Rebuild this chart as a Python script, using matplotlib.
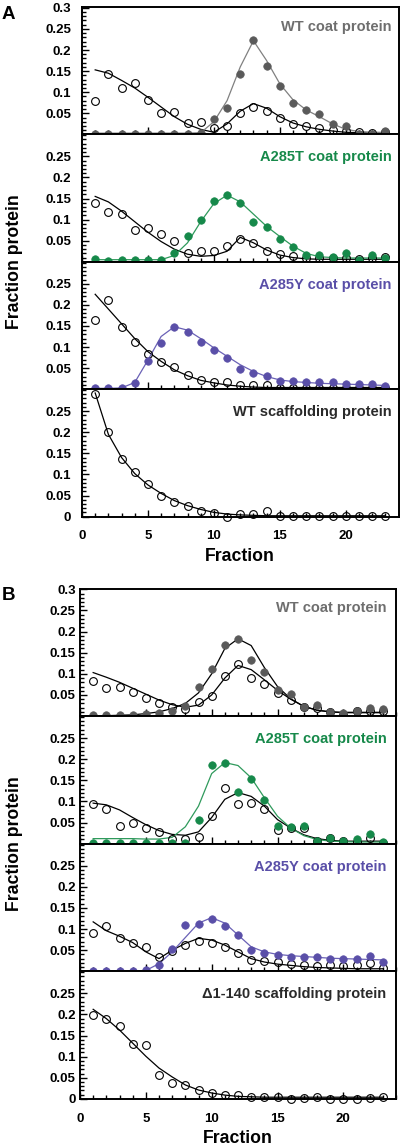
import matplotlib
matplotlib.use('Agg')
import matplotlib.pyplot as plt
from matplotlib.ticker import MultipleLocator

plt.rcParams['font.family'] = ['Liberation Sans', 'DejaVu Sans']
plt.rcParams['font.weight'] = 'bold'

# 组分编号
fractions = list(range(1, 24))

# ---- A 组数据 ----
# WT coat protein
a1_open = [0.078, 0.144, 0.109, 0.122, 0.082, 0.050, 0.052, 0.027, 0.029, 0.015, 0.020, 0.050,
           0.066, 0.056, 0.039, 0.025, 0.020, 0.016, 0.011, 0.008, 0.005, 0.004, 0.006]
a1_fill = [0.001, 0.001, 0.001, 0.002, 0.001, 0.001, 0.001, 0.001, 0.003, 0.036, 0.062, 0.144,
           0.223, 0.163, 0.115, 0.074, 0.057, 0.049, 0.024, 0.019, 0.001, 0.002, 0.009]
a1_open_fit = [0.153, 0.145, 0.128, 0.110, 0.088, 0.065, 0.042, 0.024, 0.012, 0.005, 0.025, 0.055,
               0.073, 0.062, 0.042, 0.027, 0.018, 0.012, 0.008, 0.005, 0.004, 0.003, 0.003]
a1_fill_fit = [0.003, 0.003, 0.003, 0.003, 0.003, 0.003, 0.003, 0.003, 0.004, 0.030, 0.080, 0.160,
               0.222, 0.175, 0.120, 0.082, 0.058, 0.042, 0.025, 0.012, 0.007, 0.005, 0.005]
# A285T coat protein
a2_open = [0.140, 0.119, 0.113, 0.075, 0.079, 0.066, 0.050, 0.020, 0.025, 0.025, 0.037, 0.053,
           0.044, 0.026, 0.018, 0.014, 0.008, 0.008, 0.008, 0.008, 0.006, 0.008, 0.012]
a2_fill = [0.006, 0.002, 0.004, 0.004, 0.004, 0.004, 0.021, 0.061, 0.098, 0.145, 0.158, 0.139,
           0.095, 0.083, 0.053, 0.034, 0.016, 0.016, 0.012, 0.020, 0.004, 0.016, 0.008]
a2_open_fit = [0.155, 0.142, 0.120, 0.095, 0.070, 0.048, 0.030, 0.018, 0.013, 0.015, 0.025, 0.058,
               0.045, 0.028, 0.016, 0.010, 0.007, 0.006, 0.006, 0.006, 0.006, 0.006, 0.006]
a2_fill_fit = [0.005, 0.005, 0.005, 0.005, 0.005, 0.005, 0.015, 0.045, 0.095, 0.138, 0.158, 0.142,
               0.113, 0.084, 0.060, 0.037, 0.020, 0.012, 0.010, 0.009, 0.009, 0.009, 0.009]
# A285Y coat protein
a3_open = [0.163, 0.211, 0.148, 0.113, 0.083, 0.064, 0.053, 0.033, 0.021, 0.017, 0.017, 0.010,
           0.010, 0.010, 0.004, 0.002, 0.002, 0.002, 0.003, 0.002, 0.002, 0.003, 0.004]
a3_fill = [0.002, 0.002, 0.003, 0.014, 0.067, 0.109, 0.147, 0.135, 0.111, 0.093, 0.075, 0.048,
           0.039, 0.031, 0.019, 0.019, 0.017, 0.016, 0.017, 0.012, 0.012, 0.012, 0.007]
a3_open_fit = [0.225, 0.190, 0.155, 0.120, 0.089, 0.066, 0.046, 0.032, 0.021, 0.015, 0.010, 0.007,
               0.005, 0.004, 0.004, 0.004, 0.004, 0.004, 0.004, 0.004, 0.004, 0.004, 0.004]
a3_fill_fit = [0.002, 0.002, 0.003, 0.016, 0.069, 0.125, 0.148, 0.140, 0.120, 0.098, 0.078, 0.058,
               0.042, 0.030, 0.022, 0.018, 0.016, 0.014, 0.013, 0.012, 0.011, 0.010, 0.009]
# WT scaffolding protein
a4_open = [0.291, 0.201, 0.137, 0.105, 0.078, 0.049, 0.034, 0.024, 0.014, 0.008, 0.000, 0.006,
           0.006, 0.014, 0.001, 0.001, 0.001, 0.001, 0.001, 0.001, 0.001, 0.001, 0.001]
a4_open_fit = [0.293, 0.195, 0.140, 0.102, 0.075, 0.055, 0.038, 0.026, 0.017, 0.010, 0.006, 0.004,
               0.003, 0.002, 0.002, 0.002, 0.002, 0.002, 0.002, 0.002, 0.002, 0.002, 0.002]

# ---- B 组数据 ----
b1_open = [0.084, 0.067, 0.069, 0.056, 0.042, 0.030, 0.022, 0.017, 0.033, 0.048, 0.094, 0.124,
           0.091, 0.075, 0.054, 0.038, 0.022, 0.018, 0.010, 0.002, 0.011, 0.012, 0.012]
b1_fill = [0.002, 0.002, 0.002, 0.002, 0.005, 0.008, 0.013, 0.024, 0.068, 0.111, 0.169, 0.183,
           0.132, 0.104, 0.062, 0.052, 0.022, 0.026, 0.010, 0.008, 0.012, 0.020, 0.016]
b1_open_fit = [0.103, 0.092, 0.080, 0.066, 0.052, 0.038, 0.027, 0.021, 0.026, 0.050, 0.090, 0.120,
               0.110, 0.086, 0.061, 0.040, 0.023, 0.014, 0.010, 0.008, 0.008, 0.008, 0.008]
b1_fill_fit = [0.001, 0.001, 0.002, 0.003, 0.006, 0.010, 0.018, 0.030, 0.055, 0.100, 0.160, 0.183,
               0.167, 0.115, 0.070, 0.041, 0.023, 0.014, 0.010, 0.009, 0.009, 0.009, 0.009]

b2_open = [0.094, 0.083, 0.041, 0.049, 0.037, 0.027, 0.010, 0.010, 0.017, 0.065, 0.133, 0.093,
           0.097, 0.081, 0.032, 0.038, 0.038, 0.007, 0.013, 0.006, 0.003, 0.013, 0.002]
b2_fill = [0.002, 0.002, 0.002, 0.001, 0.001, 0.002, 0.002, 0.002, 0.056, 0.186, 0.192, 0.122,
           0.152, 0.104, 0.041, 0.040, 0.043, 0.007, 0.014, 0.007, 0.010, 0.024, 0.003]
b2_open_fit = [0.096, 0.092, 0.080, 0.062, 0.045, 0.031, 0.022, 0.020, 0.028, 0.062, 0.105, 0.121,
               0.112, 0.089, 0.057, 0.037, 0.021, 0.012, 0.008, 0.006, 0.006, 0.006, 0.006]
b2_fill_fit = [0.012, 0.012, 0.012, 0.012, 0.011, 0.011, 0.015, 0.040, 0.089, 0.166, 0.192, 0.185,
               0.156, 0.109, 0.065, 0.037, 0.019, 0.010, 0.006, 0.005, 0.004, 0.004, 0.004]

b3_open = [0.091, 0.107, 0.079, 0.068, 0.057, 0.034, 0.048, 0.062, 0.072, 0.067, 0.057, 0.044,
           0.027, 0.025, 0.021, 0.018, 0.016, 0.012, 0.016, 0.012, 0.016, 0.019, 0.008]
b3_fill = [0.001, 0.001, 0.001, 0.001, 0.002, 0.014, 0.052, 0.110, 0.111, 0.123, 0.108, 0.086,
           0.050, 0.044, 0.039, 0.035, 0.034, 0.033, 0.030, 0.030, 0.028, 0.036, 0.021]
b3_open_fit = [0.117, 0.096, 0.083, 0.068, 0.046, 0.030, 0.050, 0.066, 0.078, 0.074, 0.062, 0.046,
               0.030, 0.022, 0.017, 0.014, 0.011, 0.009, 0.008, 0.007, 0.006, 0.006, 0.006]
b3_fill_fit = [0.001, 0.001, 0.001, 0.001, 0.002, 0.018, 0.046, 0.080, 0.114, 0.127, 0.114, 0.086,
               0.058, 0.046, 0.040, 0.037, 0.035, 0.033, 0.031, 0.030, 0.029, 0.028, 0.027]

b4_open = [0.198, 0.188, 0.172, 0.129, 0.127, 0.056, 0.037, 0.032, 0.020, 0.014, 0.010, 0.009,
           0.004, 0.004, 0.005, 0.000, 0.002, 0.004, 0.000, 0.000, 0.000, 0.002, 0.004]
b4_open_fit = [0.212, 0.190, 0.163, 0.132, 0.101, 0.073, 0.052, 0.033, 0.021, 0.014, 0.009, 0.006,
               0.005, 0.004, 0.004, 0.004, 0.004, 0.004, 0.004, 0.004, 0.004, 0.004, 0.004]

titles_a = ['WT coat protein', 'A285T coat protein', 'A285Y coat protein', 'WT scaffolding protein']
titles_b = ['WT coat protein', 'A285T coat protein', 'A285Y coat protein', '\u03941-140 scaffolding protein']

ytick_top = [0.05, 0.1, 0.15, 0.2, 0.25, 0.3]
ytick_top_lbl = ['0.05', '0.1', '0.15', '0.2', '0.25', '0.3']
ytick_mid = [0.05, 0.1, 0.15, 0.2, 0.25]
ytick_mid_lbl = ['0.05', '0.1', '0.15', '0.2', '0.25']
ytick_bot = [0, 0.05, 0.1, 0.15, 0.2, 0.25]
ytick_bot_lbl = ['0', '0.05', '0.1', '0.15', '0.2', '0.25']
xtick = [0, 5, 10, 15, 20]
xtick_lbl = ['0', '5', '10', '15', '20']

gray = '#5a5a5a'
green = '#16894a'
purple = '#5a4fa8'

# 每个子图: (空心, 空心拟合, 实心, 实心拟合, 颜色, 拟合线颜色, 标题颜色)
panel_a = [
    (a1_open, a1_open_fit, a1_fill, a1_fill_fit, gray, '#808080', '#6e6e6e'),
    (a2_open, a2_open_fit, a2_fill, a2_fill_fit, green, '#2f9a5c', green),
    (a3_open, a3_open_fit, a3_fill, a3_fill_fit, purple, '#6a61b6', purple),
    (a4_open, a4_open_fit, None, None, None, None, '#2a2a2a'),
]
panel_b = [
    (b1_open, b1_open_fit, b1_fill, b1_fill_fit, gray, 'black', '#6e6e6e'),
    (b2_open, b2_open_fit, b2_fill, b2_fill_fit, green, '#2f9a5c', green),
    (b3_open, b3_open_fit, b3_fill, b3_fill_fit, purple, '#6a61b6', purple),
    (b4_open, b4_open_fit, None, None, None, None, '#2a2a2a'),
]

W, H = 400, 1147
fig = plt.figure(figsize=(W / 100, H / 100), dpi=100)


def draw_panel(series, titles, left, right, top, step, ypad, label, title_x):
    axes = []
    for i, (op, opfit, fl, flfit, col, fitcol, tcol) in enumerate(series):
        y0 = top + step * (i + 1)
        ax = fig.add_axes([left / W, 1 - y0 / H, (right - left) / W, step / H])
        ax.plot(fractions, opfit, color='black', lw=0.9, zorder=2)
        if fl is not None:
            ax.plot(fractions, flfit, color=fitcol, lw=0.9, zorder=2)
        ax.plot(fractions, op, 'o', ms=5.6, mfc='none', mec='black', mew=0.8,
                clip_on=False, zorder=3)
        if fl is not None:
            ax.plot(fractions, fl, 'o', ms=5.4, mfc=col, mec=col, mew=0.5,
                    clip_on=False, zorder=4)
        ax.set_xlim(0, 24)
        ax.set_ylim(0, 0.302)
        ax.xaxis.set_minor_locator(MultipleLocator(1))
        ax.yaxis.set_minor_locator(MultipleLocator(0.01))
        ax.set_xticks(xtick, xtick_lbl)
        if i == 0:
            ax.set_yticks(ytick_top, ytick_top_lbl)
        elif i == 3:
            ax.set_yticks(ytick_bot, ytick_bot_lbl)
        else:
            ax.set_yticks(ytick_mid, ytick_mid_lbl)
        ax.tick_params(which='both', direction='in', width=1.0, labelsize=9.5)
        ax.tick_params(which='major', length=5)
        ax.tick_params(which='minor', length=3)
        ax.tick_params(axis='y', pad=ypad)
        ax.tick_params(axis='x', pad=10)
        if i < 3:
            ax.tick_params(axis='x', labelbottom=False)
        for s in ax.spines.values():
            s.set_linewidth(1.4)
        ax.text(title_x, 0.82 if i else 0.845, titles[i], transform=ax.transAxes,
                ha='right', va='center', fontsize=10.5, fontweight='bold', color=tcol)
        axes.append(ax)
    axes[-1].set_xlabel('Fraction', fontsize=12.7, fontweight='bold', labelpad=4)
    mid = top + step * 2
    fig.text(15 / W, 1 - mid / H, 'Fraction protein', rotation=90, ha='center', va='center',
             fontsize=12.7, fontweight='bold')
    fig.text(2 / W, 1 - (top - 1) / H, label, ha='left', va='top', fontsize=13.5,
             fontweight='bold')
    return axes


draw_panel(panel_a, titles_a, 82, 398.5, 7, 127.4, 8, 'A', 0.978)
draw_panel(panel_b, titles_b, 80, 396, 588.5, 127.6, 3, 'B', 0.97)

fig.savefig('out.png', dpi=100)
